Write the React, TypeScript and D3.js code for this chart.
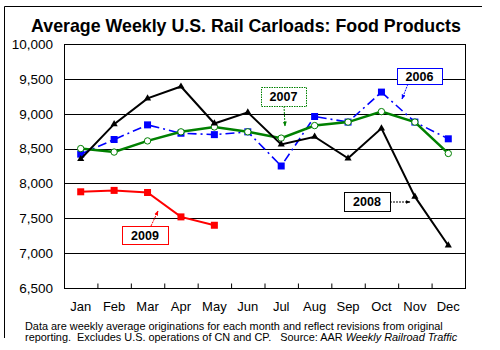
import { useEffect, useRef } from "react";
import * as d3 from "d3";

const MONTHS = ["Jan", "Feb", "Mar", "Apr", "May", "Jun", "Jul", "Aug", "Sep", "Oct", "Nov", "Dec"];
const Y_TICKS = [6500, 7000, 7500, 8000, 8500, 9000, 9500, 10000];

const V2006 = [8420, 8630, 8840, 8720, 8700, 8740, 8250, 8960, 8880, 9310, 8880, 8640];
const V2007 = [8500, 8450, 8610, 8740, 8810, 8740, 8650, 8830, 8880, 9030, 8880, 8430];
const V2008 = [8350, 8850, 9220, 9390, 8860, 9020, 8560, 8670, 8360, 8790, 7810, 7110];
const V2009 = [7880, 7900, 7870, 7520, 7400];

const TITLE = "Average Weekly U.S. Rail Carloads: Food Products";
const NOTE1 = "Data are weekly average originations for each month and reflect revisions from original";
const NOTE2 = "reporting.  Excludes U.S. operations of CN and CP.   Source: AAR ";
const NOTE2_ITALIC = "Weekly Railroad Traffic";

const FONT = "'Liberation Sans', Arial, sans-serif";

function RailChart() {
  const ref = useRef<HTMLDivElement>(null);

  useEffect(() => {
    const container = d3.select(ref.current);
    container.selectAll("*").remove();

    const width = 500;
    const height = 350;
    const margin = { top: 44, right: 35, bottom: 62, left: 64 };

    const svg = container
      .append("svg")
      .attr("width", width)
      .attr("height", height)
      .style("position", "absolute")
      .style("left", 0)
      .style("top", 0)
      .style("font-family", FONT);

    svg.append("rect").attr("width", width).attr("height", height).attr("fill", "#fff");

    // outer frame (only top and left edges visible)
    svg
      .append("path")
      .attr("d", "M4.5,338 L4.5,6.5 L482,6.5")
      .attr("fill", "none")
      .attr("stroke", "#000")
      .attr("stroke-width", 1);

    const x = d3
      .scaleBand()
      .domain(MONTHS)
      .range([margin.left, width - margin.right]);

    const xIdx = d3
      .scaleLinear()
      .domain([0, 12])
      .range([margin.left, width - margin.right]);

    const y = d3
      .scaleLinear()
      .domain([6500, 10000])
      .range([height - margin.bottom, margin.top]);

    // gridlines
    svg
      .append("g")
      .selectAll("line")
      .data(Y_TICKS)
      .join("line")
      .attr("x1", margin.left)
      .attr("x2", width - margin.right)
      .attr("y1", (d) => Math.round(y(d)) + 0.5)
      .attr("y2", (d) => Math.round(y(d)) + 0.5)
      .attr("stroke", "#000")
      .attr("stroke-width", 1);

    // plot box
    svg
      .append("rect")
      .attr("x", margin.left + 0.5)
      .attr("y", Math.round(y(10000)) + 0.5)
      .attr("width", width - margin.right - margin.left)
      .attr("height", Math.round(y(6500)) - Math.round(y(10000)))
      .attr("fill", "none")
      .attr("stroke", "#000");

    // y axis labels
    const yAxis = svg
      .append("g")
      .attr("transform", `translate(${margin.left},0)`)
      .call(
        d3
          .axisLeft(y)
          .tickValues(Y_TICKS)
          .tickFormat(d3.format(","))
          .tickSize(0)
          .tickPadding(11)
      );
    yAxis.select(".domain").remove();
    yAxis
      .selectAll("text")
      .attr("fill", "#000")
      .style("font-family", FONT)
      .style("font-size", "13.5px");

    // x ticks between months (inward)
    const xAxis = svg
      .append("g")
      .attr("transform", `translate(0,${Math.round(y(6500)) + 0.5})`)
      .call(
        d3
          .axisBottom(xIdx)
          .tickValues(d3.range(1, 12))
          .tickSize(-5)
          .tickFormat(() => "")
      );
    xAxis.select(".domain").remove();
    xAxis.selectAll("line").attr("stroke", "#000");

    // month labels
    svg
      .append("g")
      .selectAll("text")
      .data(MONTHS)
      .join("text")
      .attr("x", (d) => x(d)! + x.bandwidth() / 2)
      .attr("y", height - margin.bottom + 23)
      .attr("text-anchor", "middle")
      .attr("fill", "#000")
      .style("font-size", "13px")
      .text((d) => d);

    const cx = (i: number) => x(MONTHS[i])! + x.bandwidth() / 2;
    const line = d3
      .line<number>()
      .x((_, i) => cx(i))
      .y((d) => y(d));

    // 2006 blue dash-dot
    svg
      .append("path")
      .datum(V2006)
      .attr("fill", "none")
      .attr("stroke", "#0000ff")
      .attr("stroke-width", 1.6)
      .attr("stroke-dasharray", "9,4,2,4")
      .attr("d", line);
    svg
      .append("g")
      .selectAll("rect")
      .data(V2006)
      .join("rect")
      .attr("x", (_, i) => cx(i) - 3.5)
      .attr("y", (d) => y(d) - 3.5)
      .attr("width", 7)
      .attr("height", 7)
      .attr("fill", "#0000ff");

    // 2007 green open circles
    svg
      .append("path")
      .datum(V2007)
      .attr("fill", "none")
      .attr("stroke", "#008000")
      .attr("stroke-width", 2.5)
      .attr("d", line);
    svg
      .append("g")
      .selectAll("circle")
      .data(V2007)
      .join("circle")
      .attr("cx", (_, i) => cx(i))
      .attr("cy", (d) => y(d))
      .attr("r", 3.2)
      .attr("fill", "#fff")
      .attr("stroke", "#008000")
      .attr("stroke-width", 1);

    // 2008 black triangles
    svg
      .append("path")
      .datum(V2008)
      .attr("fill", "none")
      .attr("stroke", "#000")
      .attr("stroke-width", 2)
      .attr("d", line);
    const tri = d3.symbol().type(d3.symbolTriangle).size(22);
    svg
      .append("g")
      .selectAll("path")
      .data(V2008)
      .join("path")
      .attr("transform", (d, i) => `translate(${cx(i)},${y(d)})`)
      .attr("d", tri)
      .attr("fill", "#000");

    // 2009 red squares
    svg
      .append("path")
      .datum(V2009)
      .attr("fill", "none")
      .attr("stroke", "#ff0000")
      .attr("stroke-width", 2)
      .attr("d", line);
    svg
      .append("g")
      .selectAll("rect")
      .data(V2009)
      .join("rect")
      .attr("x", (_, i) => cx(i) - 3.5)
      .attr("y", (d) => y(d) - 3.5)
      .attr("width", 7)
      .attr("height", 7)
      .attr("fill", "#ff0000");

    // annotation labels
    const labels = [
      { text: "2006", color: "#0000ff", dash: null, box: [397, 68, 45, 16], arrow: [408, 84, 402, 99] },
      { text: "2007", color: "#008000", dash: "1.5,1", box: [261, 87, 45, 19], arrow: [284, 106, 285, 126] },
      { text: "2008", color: "#000", dash: null, box: [344, 192, 46, 19], arrow: [390, 202, 410, 202] },
      { text: "2009", color: "#ff0000", dash: null, box: [122, 226, 46, 18], arrow: [151, 226, 158, 211] },
    ];

    const defs = svg.append("defs");
    labels.forEach((l, k) => {
      defs
        .append("marker")
        .attr("id", `arr${k}`)
        .attr("viewBox", "0 0 10 10")
        .attr("refX", 9)
        .attr("refY", 5)
        .attr("markerWidth", 5)
        .attr("markerHeight", 5)
        .attr("orient", "auto")
        .append("path")
        .attr("d", "M0,1 L10,5 L0,9 Z")
        .attr("fill", l.color);
    });

    labels.forEach((l, k) => {
      const [ax1, ay1, ax2, ay2] = l.arrow;
      svg
        .append("line")
        .attr("x1", ax1)
        .attr("y1", ay1)
        .attr("x2", ax2)
        .attr("y2", ay2)
        .attr("stroke", l.color)
        .attr("stroke-width", 1)
        .attr("stroke-dasharray", "2,1")
        .attr("marker-end", `url(#arr${k})`);
      const [bx, by, bw, bh] = l.box;
      svg
        .append("rect")
        .attr("x", bx + 0.5)
        .attr("y", by + 0.5)
        .attr("width", bw)
        .attr("height", bh)
        .attr("fill", "#fff")
        .attr("stroke", l.color)
        .attr("stroke-width", 1)
        .attr("stroke-dasharray", l.dash);
      svg
        .append("text")
        .attr("x", bx + bw / 2)
        .attr("y", by + bh / 2 + 4.5)
        .attr("text-anchor", "middle")
        .attr("fill", "#000")
        .style("font-size", "12.5px")
        .style("font-weight", "bold")
        .text(l.text);
    });

    // title
    svg
      .append("text")
      .attr("x", 246)
      .attr("y", 32)
      .attr("text-anchor", "middle")
      .attr("fill", "#000")
      .style("font-size", "17.8px")
      .style("font-weight", "bold")
      .text(TITLE);

    // footnote
    svg
      .append("text")
      .attr("x", 25)
      .attr("y", 330)
      .attr("fill", "#000")
      .style("font-size", "10.9px")
      .text(NOTE1);
    const n2 = svg
      .append("text")
      .attr("x", 25)
      .attr("y", 341)
      .attr("fill", "#000")
      .style("font-size", "10.9px")
      .style("white-space", "pre");
    n2.append("tspan").text(NOTE2);
    n2.append("tspan").style("font-style", "italic").text(NOTE2_ITALIC);
  }, []);

  return <div ref={ref} />;
}

export default function App() {
  return <RailChart />;
}
